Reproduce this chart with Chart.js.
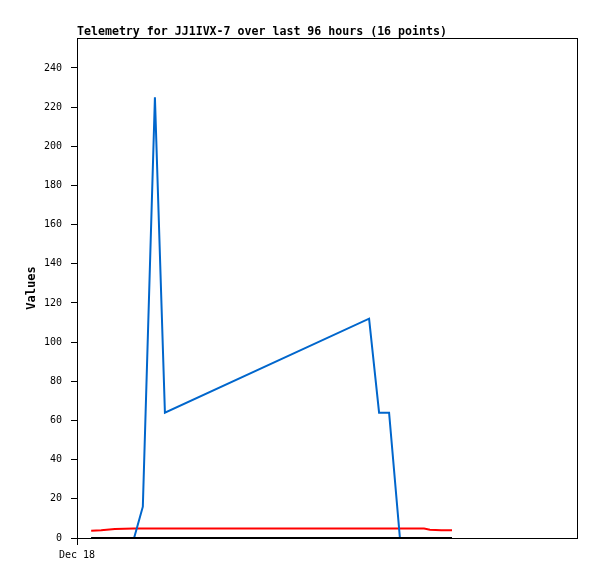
<!DOCTYPE html>
<html>
<head>
<meta charset="utf-8">
<script src="https://cdn.jsdelivr.net/npm/chart.js@4.4.0/dist/chart.umd.min.js"></script>
<style>
  html, body { margin: 0; padding: 0; background: #fff; }
  #wrap { width: 597px; height: 579px; }
</style>
</head>
<body>
<div id="wrap"><canvas id="myChart" width="597" height="579"></canvas></div>
<script>
// hours since Dec 18 00:00, one entry per telemetry packet
const hours = [3.4, 5.8, 9.1, 13.7, 15.8, 18.7, 21.1, 70.1, 72.5, 74.9, 77.5, 80.4, 83.3, 84.7, 87.4, 90.0];
const blueValues = [0, 0, 0, 0, 16, 225, 64, 112, 64, 64, 0, 0, 0, 0, 0, 0];
const redValues = [3.7, 4.0, 4.6, 4.8, 4.8, 4.8, 4.8, 4.8, 4.8, 4.8, 4.8, 4.8, 4.8, 4.2, 3.9, 3.9];
const blackValues = [0, 0, 0, 0, 0, 0, 0, 0, 0, 0, 0, 0, 0, 0, 0, 0];
const xTickLabels = ['Dec 18'];
const yTicks = [0, 20, 40, 60, 80, 100, 120, 140, 160, 180, 200, 220, 240];

const titleText = 'Telemetry for JJ1IVX-7 over last 96 hours (16 points)';
const mono = '"DejaVu Sans Mono", monospace';

function toPoints(values) {
  return values.map((v, i) => ({ x: hours[i], y: v }));
}

// plot box + title drawn by hand so they sit on the chart area edge
const boxPlugin = {
  id: 'box',
  afterDraw(chart) {
    const c = chart.ctx;
    const a = chart.chartArea;
    c.save();
    c.strokeStyle = '#000';
    c.lineWidth = 1;
    c.strokeRect(Math.round(a.left) + 0.5, Math.round(a.top) + 0.5, Math.round(a.right - a.left), Math.round(a.bottom - a.top));
    c.fillStyle = '#000';
    c.font = 'bold 11.6px ' + mono;
    c.textBaseline = 'alphabetic';
    c.textAlign = 'left';
    c.fillText(titleText, a.left, a.top - 3);
    c.restore();
  }
};

const ctx = document.getElementById('myChart').getContext('2d');
const myChart = new Chart(ctx, {
  type: 'line',
  data: {
    datasets: [
      { data: toPoints(blackValues), borderColor: '#000000', borderWidth: 2, order: 0 },
      { data: toPoints(blueValues), borderColor: '#0066cc', borderWidth: 2, order: 1 },
      { data: toPoints(redValues), borderColor: '#ff0000', borderWidth: 2, order: 2 },
    ],
  },
  options: {
    responsive: false,
    animation: false,
    layout: { padding: { top: 38, right: 20, left: 0, bottom: 0 } },
    elements: { point: { radius: 0 }, line: { tension: 0 } },
    plugins: { legend: { display: false }, tooltip: { enabled: false }, title: { display: false } },
    scales: {
      x: {
        type: 'linear',
        min: 0,
        max: 120,
        afterBuildTicks: (s) => { s.ticks = [{ value: 0 }]; },
        afterFit: (s) => { s.height = 41; },
        ticks: {
          autoSkip: false,
          maxRotation: 0,
          color: '#000',
          font: { family: mono, size: 10 },
          padding: 4,
          callback: (v, i) => xTickLabels[i],
        },
        grid: { display: true, drawOnChartArea: false, drawTicks: true, tickLength: 7, color: '#000' },
        border: { display: true, color: '#000' },
      },
      y: {
        min: 0,
        max: 255.3,
        afterBuildTicks: (s) => { s.ticks = yTicks.map((v) => ({ value: v })); },
        afterFit: (s) => { s.width = 77; },
        ticks: {
          color: '#000',
          font: { family: mono, size: 10 },
          padding: 9,
        },
        title: {
          display: true,
          text: 'Values',
          color: '#000',
          font: { family: mono, size: 12, weight: 'bold' },
          padding: { top: 25, bottom: 0 },
        },
        grid: { display: true, drawOnChartArea: false, drawTicks: true, tickLength: 6, color: '#000' },
        border: { display: true, color: '#000' },
      },
    },
  },
  plugins: [boxPlugin],
});
</script>
</body>
</html>
